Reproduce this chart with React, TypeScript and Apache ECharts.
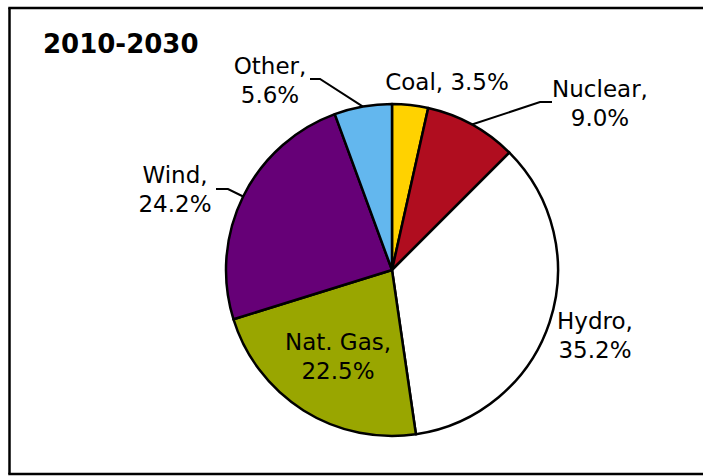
import React, { useEffect, useRef } from "react";
import * as echarts from "echarts";

const TITLE = "2010-2030";
const CATEGORIES = ["Coal", "Nuclear", "Hydro", "Nat. Gas", "Wind", "Other"];
const VALUES = [3.5, 9.0, 35.2, 22.5, 24.2, 5.6];
const COLORS = ["#FFD200", "#B00D1F", "#FFFFFF", "#99A600", "#660077", "#63B7EE"];
const SINGLE_LINE = ["Coal"];

// layout styling (positions of label boxes and leader-line bends)
const CENTER: [number, number] = [392, 270];
const RADIUS = 166;
const LABEL_POS: [number, number][] = [
  [447, 82],
  [600, 103],
  [595, 335],
  [338, 356],
  [175, 189],
  [270, 80],
];
const LINE_BENDS: ([number, number][] | null)[] = [
  null,
  [[540, 102], [552, 102]],
  null,
  null,
  [[228, 189], [216, 189]],
  [[320, 79], [310, 79]],
];

export default function App() {
  const ref = useRef<HTMLDivElement>(null);
  useEffect(() => {
    if (!ref.current) return;
    const chart = echarts.init(ref.current, undefined, { renderer: "svg" });
    const total = VALUES.reduce((a, b) => a + b, 0);
    const mids: number[] = [];
    let acc = 0;
    VALUES.forEach((v) => {
      mids.push(((acc + v / 2) / total) * Math.PI * 2);
      acc += v;
    });
    const edge = (i: number): [number, number] => [
      CENTER[0] + RADIUS * Math.sin(mids[i]),
      CENTER[1] - RADIUS * Math.cos(mids[i]),
    ];
    const font = "DejaVu Sans";
    const frameStyle = { stroke: "#000", lineWidth: 2.5 };
    chart.setOption({
      animation: false,
      backgroundColor: "#ffffff",
      title: {
        text: TITLE,
        left: 43,
        top: 31,
        padding: 0,
        textStyle: { fontSize: 26, fontWeight: "bold", fontFamily: font, color: "#000" },
      },
      graphic: [
        { type: "line", shape: { x1: 8.25, y1: 8, x2: 703, y2: 8 }, style: frameStyle, silent: true },
        { type: "line", shape: { x1: 9.5, y1: 8, x2: 9.5, y2: 474 }, style: frameStyle, silent: true },
        { type: "line", shape: { x1: 8.25, y1: 474, x2: 703, y2: 474 }, style: frameStyle, silent: true },
      ],
      series: [
        {
          type: "pie",
          center: CENTER,
          radius: RADIUS,
          startAngle: 90,
          clockwise: true,
          silent: true,
          emphasis: { disabled: true },
          itemStyle: { borderColor: "#000", borderWidth: 2.5 },
          label: {
            show: true,
            fontFamily: font,
            fontSize: 23,
            lineHeight: 29,
            color: "#000",
            align: "center",
            formatter: (p: any) => {
              const sep = SINGLE_LINE.includes(p.name) ? " " : "\n";
              return `${p.name},${sep}${Number(p.value).toFixed(1)}%`;
            },
          },
          labelLine: {
            show: true,
            lineStyle: { color: "#000", width: 2 },
          },
          labelLayout: (params: any) => {
            const i = params.dataIndex;
            const [x, y] = LABEL_POS[i];
            const out: any = { x, y, align: "center", verticalAlign: "middle" };
            const bends = LINE_BENDS[i];
            if (bends) out.labelLinePoints = [edge(i), bends[0], bends[1]];
            return out;
          },
          data: CATEGORIES.map((name, i) => ({
            name,
            value: VALUES[i],
            itemStyle: { color: COLORS[i] },
            labelLine: { show: LINE_BENDS[i] !== null },
          })),
        },
      ],
    });
    return () => chart.dispose();
  }, []);
  return (
    <div
      ref={ref}
      style={{ position: "fixed", left: 0, top: 0, width: 703, height: 476 }}
    />
  );
}
